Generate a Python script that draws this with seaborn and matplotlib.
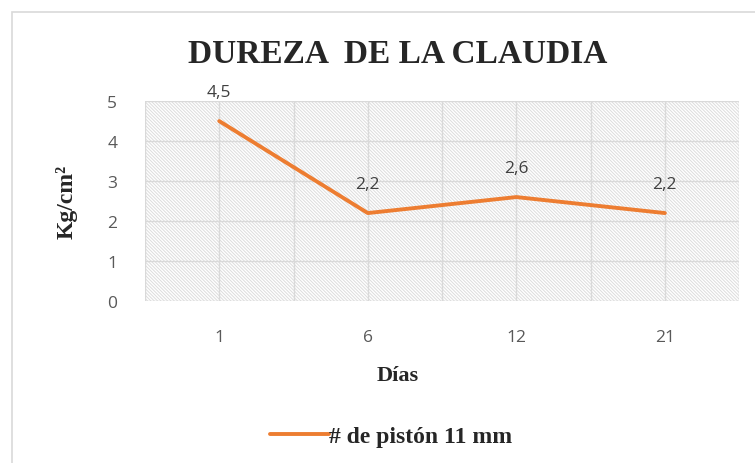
import matplotlib
matplotlib.use("Agg")
import matplotlib.pyplot as plt
from matplotlib.patches import Rectangle
import pandas as pd
import seaborn as sns

# data
dias = ["1", "6", "12", "21"]
dureza = [4.5, 2.2, 2.6, 2.2]
etiquetas = ["4,5", "2,2", "2,6", "2,2"]
serie = "# de pistón 11 mm"

df = pd.DataFrame({"Días": dias, "Dureza": dureza})

sns.set_style("white")
plt.rcParams["hatch.linewidth"] = 0.7

fig = plt.figure(figsize=(7.55, 4.64), dpi=100)
ax = fig.add_axes([0.192, 0.349, 0.787, 0.431])

# hatched plot background
ax.add_patch(Rectangle((0, 0), 1, 1, transform=ax.transAxes, facecolor="white",
                       edgecolor="#dcdcdc", hatch="\\" * 10, lw=0, zorder=0))

sns.lineplot(data=df, x="Días", y="Dureza", color="#ED7D31", lw=2.8,
             label=serie, ax=ax, zorder=3, sort=False)

for i, (v, t) in enumerate(zip(dureza, etiquetas)):
    ax.annotate(t, (i, v), xytext=(0, 21), textcoords="offset points",
                ha="center", va="center", fontsize=12.5, color="#404040",
                family="Open Sans")

ax.set_xlim(-0.5, 3.5)
ax.set_ylim(0, 5)
ax.set_yticks(range(6))

# gridlines at every half category and every unit
for x in [-0.5, 0, 0.5, 1, 1.5, 2, 2.5, 3, 3.5]:
    ax.axvline(x, color="#d9d9d9", lw=1, zorder=1)
for y in range(6):
    ax.axhline(y, color="#d9d9d9", lw=1, zorder=1)

for s in ax.spines.values():
    s.set_visible(False)
ax.tick_params(length=0, labelsize=12.5, labelcolor="#595959")
ax.tick_params(axis="y", pad=20)
ax.tick_params(axis="x", pad=20)
for lab in ax.get_xticklabels() + ax.get_yticklabels():
    lab.set_family("Open Sans")

ax.set_xlabel("Días", family="Liberation Serif", fontweight="bold", fontsize=16)
ax.xaxis.set_label_coords(0.425, -0.32)
ax.set_ylabel("Kg/cm²", family="Liberation Serif", fontweight="bold", fontsize=17)
ax.yaxis.set_label_coords(-0.113, 0.5)

fig.suptitle("DUREZA  DE LA CLAUDIA", x=0.527, y=0.915, family="Liberation Serif",
             fontweight="bold", fontsize=24)

ax.legend(loc="center", bbox_to_anchor=(0.415, -0.675), frameon=False,
          prop={"family": "Liberation Serif", "weight": "bold", "size": 17},
          handlelength=2.5, handletextpad=0.0)

# outer chart border
fig.patches.append(Rectangle((0.0159, -0.1), 1.2, 1.072, transform=fig.transFigure,
                             fill=False, edgecolor="#d9d9d9", lw=1.2))

fig.savefig("out.png", dpi=100)
